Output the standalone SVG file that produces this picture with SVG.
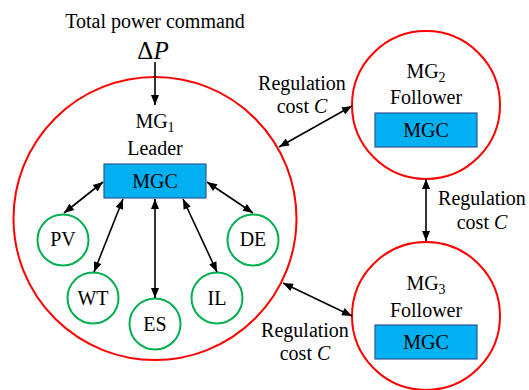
<svg xmlns="http://www.w3.org/2000/svg" width="529" height="390" viewBox="0 0 529 390">
<defs>
<marker id="ah" viewBox="0 0 10 8" refX="10" refY="4" markerWidth="11" markerHeight="8" markerUnits="userSpaceOnUse" orient="auto-start-reverse">
<path d="M0,0 L10,4 L0,8 z" fill="#000"/>
</marker>
<style>
text{font-family:'Liberation Serif','DejaVu Serif',serif;font-size:20px;fill:#000;text-anchor:middle}
text.big{font-size:25px}
.mg{fill:#fff;stroke:#FF0000;stroke-width:2}
.dev{fill:#fff;stroke:#00B050;stroke-width:2}
.mgc{fill:#00B0F0;stroke:#2F5597;stroke-width:1.2}
.con line{stroke:#000;stroke-width:1.6;marker-end:url(#ah)}
.con line.bi{marker-start:url(#ah)}
.sub{font-size:14px}
.it{font-style:italic}
</style>
</defs>
<g id="title">
<text x="155" y="28">Total power command</text>
<text class="big" x="153" y="59">Δ<tspan class="it">P</tspan></text>
</g>
<g id="MG1">
<circle class="mg" cx="155" cy="218.5" r="141.5"/>
<text x="155" y="128">MG<tspan class="sub" dy="4">1</tspan></text>
<text x="155" y="155">Leader</text>
<rect class="mgc" x="104" y="164" width="102" height="34"/>
<text x="155" y="188">MGC</text>
</g>
<g id="PV"><circle class="dev" cx="63" cy="240" r="25.5"/><text x="63" y="246">PV</text></g>
<g id="WT"><circle class="dev" cx="93" cy="298" r="25.5"/><text x="93" y="305">WT</text></g>
<g id="ES"><circle class="dev" cx="155" cy="324" r="25.5"/><text x="155" y="331">ES</text></g>
<g id="IL"><circle class="dev" cx="217" cy="298" r="25.5"/><text x="217" y="305">IL</text></g>
<g id="DE"><circle class="dev" cx="253" cy="240" r="25.5"/><text x="253" y="246">DE</text></g>
<g id="MG2">
<circle class="mg" cx="426" cy="105" r="74"/>
<text x="426" y="78">MG<tspan class="sub" dy="4">2</tspan></text>
<text x="426" y="104">Follower</text>
<rect class="mgc" x="375" y="113" width="102" height="34"/>
<text x="426" y="137">MGC</text>
</g>
<g id="MG3">
<circle class="mg" cx="426" cy="316" r="74"/>
<text x="426" y="290">MG<tspan class="sub" dy="4">3</tspan></text>
<text x="426" y="317">Follower</text>
<rect class="mgc" x="375" y="325" width="102" height="34"/>
<text x="426" y="349">MGC</text>
</g>
<g id="labels">
<text x="302" y="90">Regulation</text>
<text x="302" y="113">cost <tspan class="it">C</tspan></text>
<text x="482" y="205">Regulation</text>
<text x="482" y="229">cost <tspan class="it">C</tspan></text>
<text x="305" y="337">Regulation</text>
<text x="305" y="360">cost <tspan class="it">C</tspan></text>
</g>
<g id="connectors" class="con">
<line x1="155" y1="62" x2="155" y2="105"/>
<line class="bi" x1="103" y1="182" x2="64" y2="213"/>
<line class="bi" x1="123" y1="199" x2="94" y2="272"/>
<line class="bi" x1="155" y1="199" x2="155" y2="298"/>
<line class="bi" x1="183" y1="199" x2="217" y2="272"/>
<line class="bi" x1="207" y1="182" x2="253" y2="213"/>
<line class="bi" x1="279" y1="147" x2="352" y2="106"/>
<line class="bi" x1="426" y1="179" x2="426" y2="241"/>
<line class="bi" x1="283" y1="283" x2="352" y2="316"/>
</g>
</svg>
